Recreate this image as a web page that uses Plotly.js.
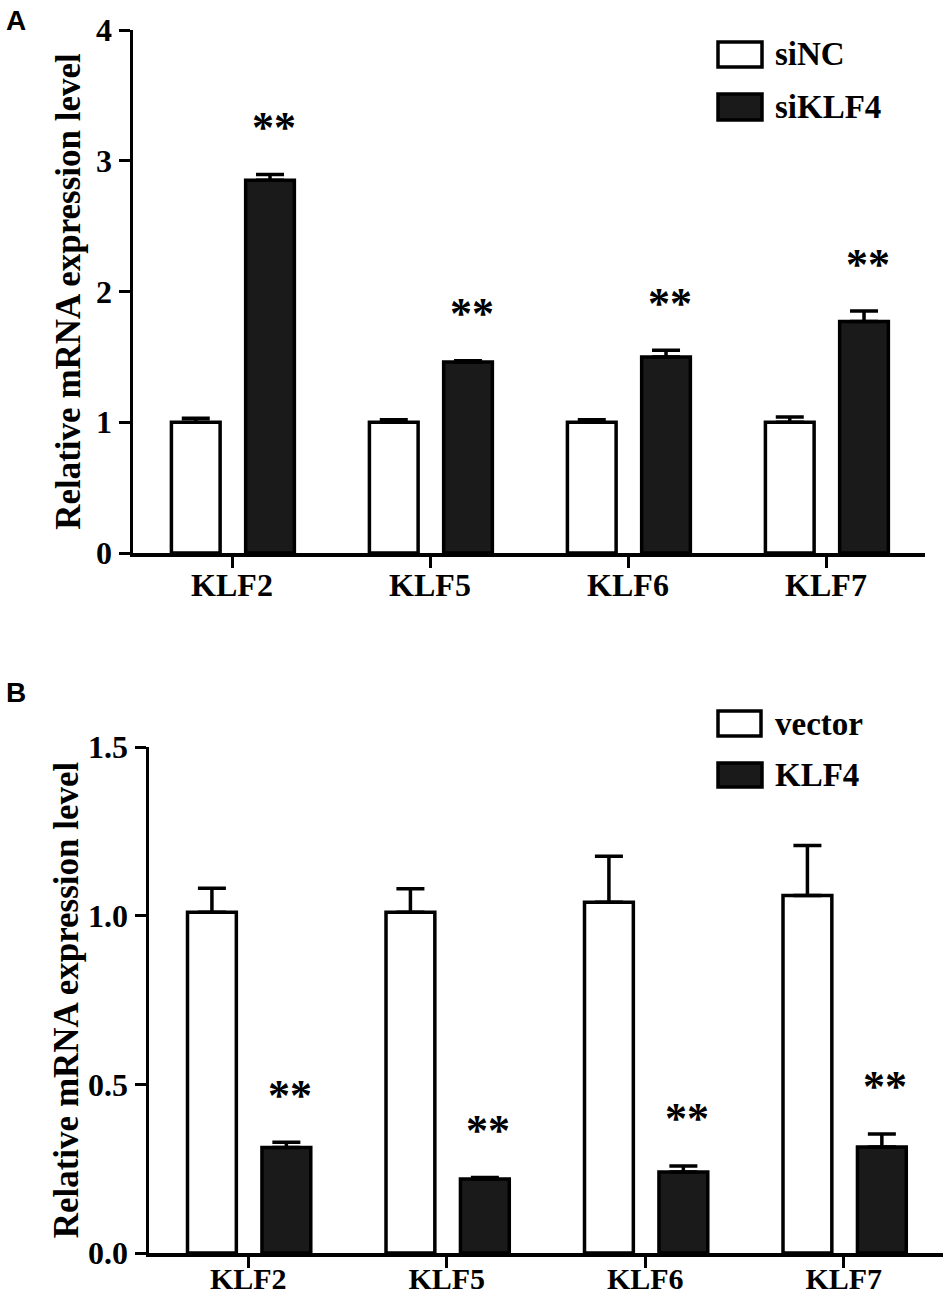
<!DOCTYPE html>
<html>
<head>
<meta charset="utf-8">
<script src="https://cdn.plot.ly/plotly-3.0.1.min.js"></script>
<style>html,body{margin:0;padding:0;background:#fff;}#chart{width:950px;height:1298px;}</style>
</head>
<body>
<div id="chart"></div>
<script>
// ---- Data ----
const genes = ['KLF2', 'KLF5', 'KLF6', 'KLF7'];

// Panel A
const siNC = [1.00, 1.00, 1.00, 1.00];
const siNC_err = [0.03, 0.02, 0.02, 0.04];
const siKLF4 = [2.85, 1.46, 1.50, 1.77];
const siKLF4_err = [0.045, 0.01, 0.05, 0.08];
const sigA = ['**', '**', '**', '**'];

// Panel B
const vector = [1.01, 1.01, 1.04, 1.06];
const vector_err = [0.071, 0.07, 0.136, 0.148];
const KLF4 = [0.313, 0.219, 0.240, 0.314];
const KLF4_err = [0.015, 0.005, 0.018, 0.039];
const sigB = ['**', '**', '**', '**'];

const ticksA = [0, 1, 2, 3, 4];
const ticksB = [0, 0.5, 1.0, 1.5];
const ticksBText = ['0.0', '0.5', '1.0', '1.5'];

// ---- Styling ----
const SERIF = 'Liberation Serif, Times New Roman, serif';
const SANS = 'Liberation Sans, Arial, sans-serif';
const BLACK = '#000000';
const DARK = '#1a1a1a';
const BW = 0.246;
const OFF_W = -0.183 - BW / 2;
const OFF_K = 0.192 - BW / 2;
const zeros = genes.map(() => 0);

function barTrace(y, err, fill, xa, ya, name, off) {
  return {
    type: 'bar', x: genes, y: y, name: name, xaxis: xa, yaxis: ya,
    width: BW, offset: off,
    marker: { color: fill, line: { color: BLACK, width: 3.5 } },
    error_y: { type: 'data', array: err, arrayminus: zeros, symmetric: false,
               color: BLACK, thickness: 3.5, width: 14 },
    hoverinfo: 'skip'
  };
}

const data = [
  barTrace(siNC, siNC_err, '#ffffff', 'x', 'y', 'siNC', OFF_W),
  barTrace(siKLF4, siKLF4_err, DARK, 'x', 'y', 'siKLF4', OFF_K),
  barTrace(vector, vector_err, '#ffffff', 'x2', 'y2', 'vector', OFF_W),
  barTrace(KLF4, KLF4_err, DARK, 'x2', 'y2', 'KLF4', OFF_K)
];

const tickFont = { family: SERIF, size: 32, color: BLACK, weight: 'bold' };
const titleFont = { family: SERIF, size: 35, color: BLACK, weight: 'bold' };

function xAxis(domain, anchor, fontSize, standoff) {
  return {
    domain: domain, anchor: anchor, type: 'category', range: [-0.5, 3.5],
    showline: true, linecolor: BLACK, linewidth: 3.5,
    ticks: 'outside', ticklen: 11, tickwidth: 3, tickcolor: BLACK,
    ticklabelstandoff: standoff,
    tickfont: { family: SERIF, size: fontSize, color: BLACK, weight: 'bold' },
    showgrid: false, zeroline: false, fixedrange: true
  };
}
function yAxis(domain, anchor, range, tv, tt, standoff) {
  return {
    domain: domain, anchor: anchor, range: range,
    tickmode: 'array', tickvals: tv, ticktext: tt,
    showline: true, linecolor: BLACK, linewidth: 3.5,
    ticks: 'outside', ticklen: 11, tickwidth: 3, tickcolor: BLACK,
    tickfont: tickFont, showgrid: false, zeroline: false, fixedrange: true,
    title: { text: 'Relative mRNA expression level', font: titleFont, standoff: standoff }
  };
}

const annotations = [];
function addSig(sig, vals, errs, xref, yref) {
  sig.forEach((s, i) => {
    annotations.push({
      x: i + 0.21, y: vals[i] + errs[i], xref: xref, yref: yref,
      text: s, showarrow: false, xanchor: 'center', yanchor: 'middle', yshift: 47,
      font: { family: SERIF, size: 44, color: BLACK, weight: 'bold' }
    });
  });
}
addSig(sigA, siKLF4, siKLF4_err, 'x', 'y');
addSig(sigB, KLF4, KLF4_err, 'x2', 'y2');

// Panel letters
annotations.push({ x: 4 / 950, y: 1 - 20 / 1298, xref: 'paper', yref: 'paper', text: 'A',
  showarrow: false, xanchor: 'left', yanchor: 'middle',
  font: { family: SANS, size: 28, color: BLACK, weight: 'bold' } });
annotations.push({ x: 4 / 950, y: 1 - 692 / 1298, xref: 'paper', yref: 'paper', text: 'B',
  showarrow: false, xanchor: 'left', yanchor: 'middle',
  font: { family: SANS, size: 28, color: BLACK, weight: 'bold' } });

// Legends (drawn manually to match the large swatches)
const shapes = [];
function legend(items, fills, boxes) {
  items.forEach((t, i) => {
    const b = boxes[i];
    shapes.push({ type: 'rect', xref: 'paper', yref: 'paper',
      x0: b[0] / 950, x1: b[1] / 950, y0: 1 - b[3] / 1298, y1: 1 - b[2] / 1298,
      fillcolor: fills[i], line: { color: BLACK, width: 3.5 } });
    annotations.push({ x: 773 / 950, y: 1 - ((b[2] + b[3]) / 2) / 1298, xref: 'paper', yref: 'paper',
      text: t, showarrow: false, xanchor: 'left', yanchor: 'middle',
      font: { family: SERIF, size: 33, color: BLACK, weight: 'bold' } });
  });
}
legend(['siNC', 'siKLF4'], ['#ffffff', DARK], [[718, 762, 42, 67], [718, 762, 94, 120]]);
legend(['vector', 'KLF4'], ['#ffffff', DARK], [[718, 761, 711, 736], [718, 762, 763, 787]]);

const layout = {
  width: 950, height: 1298,
  margin: { l: 0, r: 0, t: 0, b: 0, pad: 0 },
  paper_bgcolor: '#ffffff', plot_bgcolor: '#ffffff',
  showlegend: false, barmode: 'overlay',
  font: { family: SERIF, color: BLACK },
  xaxis: xAxis([133 / 950, 925 / 950], 'y', 32, -10),
  yaxis: yAxis([1 - 553 / 1298, 1 - 30 / 1298], 'x', [0, 4], ticksA, ticksA.map(String), 6),
  xaxis2: xAxis([149 / 950, 943 / 950], 'y2', 30, -15),
  yaxis2: yAxis([1 - 1253 / 1298, 1 - 747 / 1298], 'x2', [0, 1.5], ticksB, ticksBText, 0),
  annotations: annotations,
  shapes: shapes
};

Plotly.newPlot('chart', data, layout, { displayModeBar: false, staticPlot: true });
</script>
</body>
</html>
